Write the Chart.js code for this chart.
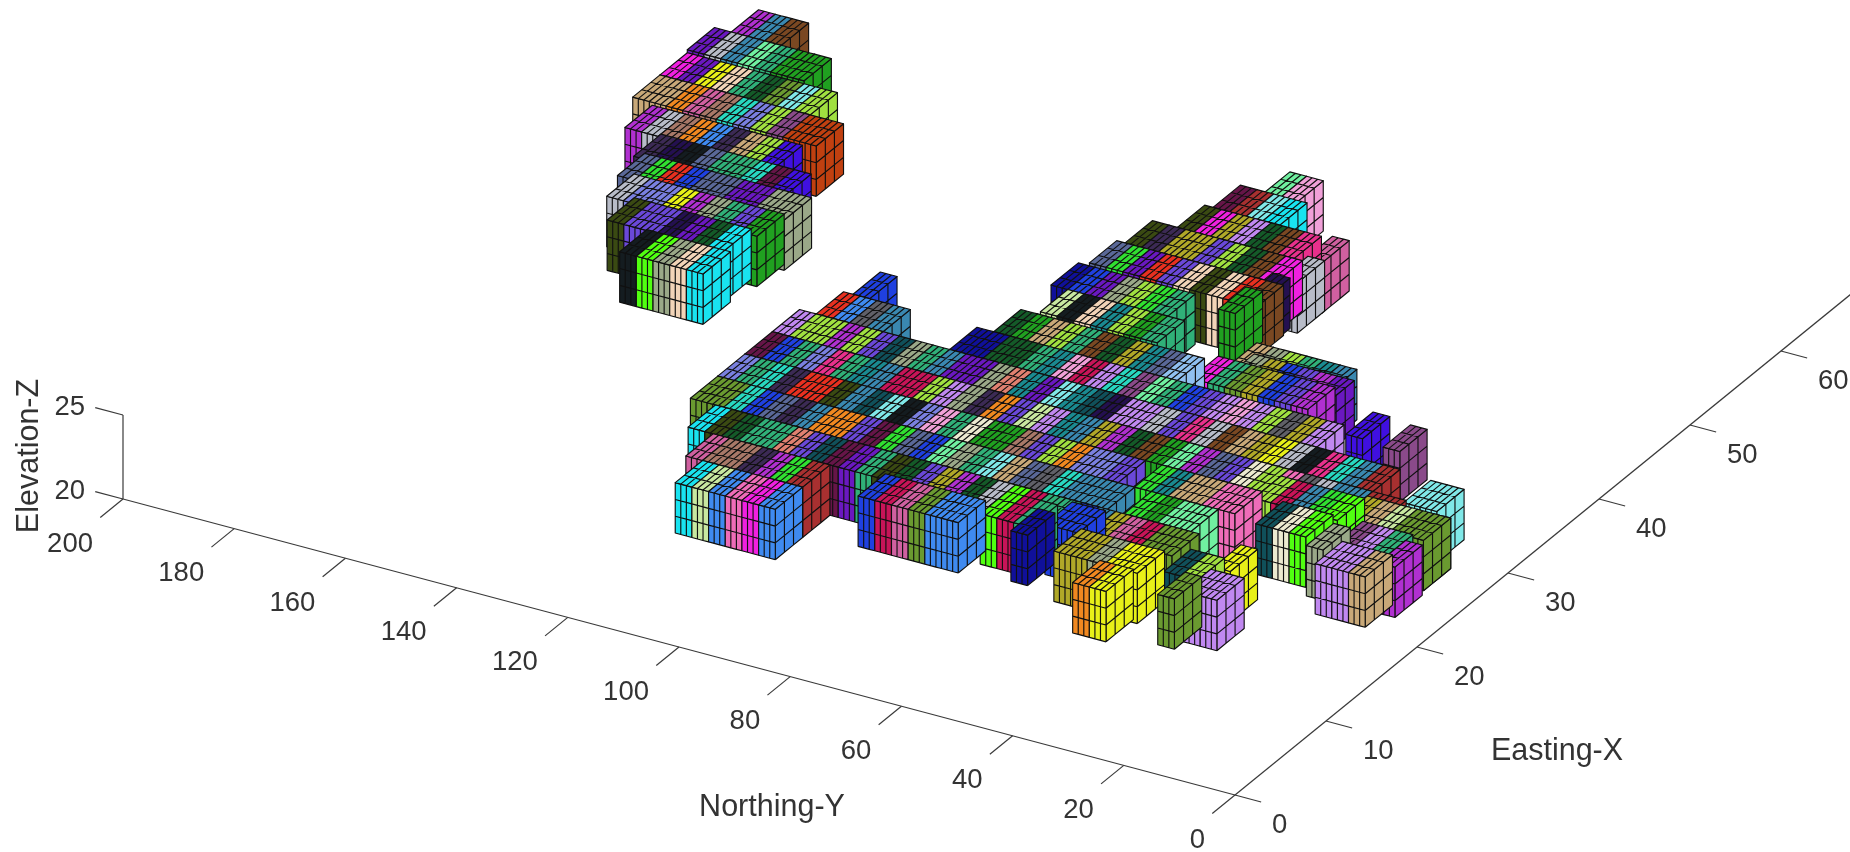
<!DOCTYPE html>
<html>
<head>
<meta charset="utf-8">
<title>Block model</title>
<script src="https://cdn.jsdelivr.net/npm/chart.js@4"></script>
<style>
  html, body { margin: 0; padding: 0; background: #fff; overflow: hidden; }
  canvas { display: block; filter: blur(0.45px); }
</style>
</head>
<body>
<canvas id="myChart" width="1850" height="852"></canvas>
<script>
// Axis ticks
const eastingTicks = [0, 10, 20, 30, 40, 50, 60];
const northingTicks = [0, 20, 40, 60, 80, 100, 120, 140, 160, 180, 200];
const elevationTicks = [20, 25];

// Each row is a line of blocks at one easting.
// rowNorthing is the first block, every next letter is 3 m further south. '.' = no block.
const rowEasting = [
  58.9, 56.8, 55.9, 54.1, 52.6, 51.4, 51.1, 49.6, 48.7, 48.1, 46.3, 46, 45.1, 43.9, 43.6, 41.8, 41.2, 38.8, 38.8,
  38.5, 37.3, 36.4, 36.1, 35.5, 35.5, 34.6, 34.3, 33.5, 32.5, 29.5, 29.2, 26.5, 25.9, 25.9, 25.6, 23.5, 23.2, 23.05,
  22.4, 22.2, 20.6, 20.5, 17.5, 17.5, 17.3, 16.6, 15.7, 15.7, 15.1, 14.8, 14.5, 14.2, 13.2, 12.1, 11.5
];
const rowNorthing = [
  184, 85, 187, 89.5, 186.5, 68.5, 91, 186.5, 68.5, 95.5, 182.5, 70.3, 97, 71.8, 176.5, 98.5, 175.5, 173.5, 95.5,
  61, 59.5, 169.5, 64, 123.8, 98.5, 33.7, 26.5, 162.5, 125.5, 128.5, 14.5, 128.5, 8.5, 20.5, 35.5, 128.5, 16.9, 31,
  7.9, 20.5, 16.3, 128.5, 124, 29.5, 59.5, 70, 63, 35.5, 89.5, 53.8, 119.5, 29.5, 32.5, 46, 116.5
];
const rowBlocks = [
  'Msx', 'EP', 'uLsEeGG', 'DdlC', 'muyWehjli', 'f', 'JmYVhxH', 'OOofXcqiZ11', 'L', 'JQYYvihxm', 'MLXobQOiU', 'z', 'SguRvWJWRx', 'G', 'QzKSeecDU', 'nBuaige', 'SgRBSSuuaa', 'LqqyMaevG', 'pKWtiGe',
  'Oaiets', 'aYBvMu', 'JvvzuhC', 'mejYBvM', 'B', 'hGOiexhYtSN', 'U', 'Z', 'KIaWC', 'RbAs....nnhhetPrVcZEeBvVPViAYV', 'ViiMivTaesuuaFtultTzVVLvHLxOYyLKHcsd', 'll', 'DBeqHetsrriVaQovpVtsYMhxGEMSvwikALssdd', 'j', 'YOpjj', 'irsgI', 'qecQRRJsTlKqPewGGXvioqqv.gtOOkk', 'ZVe', 'TwI',
  'M', 'a', 'VVO', 'jjcBSQsoovDgSBEaelOSAcsss.gGEE', 'CJheeFvTDueJhvYMhLIreeBsYfrjj', 'y', 'BB', 'Ire', 'n', 'Ti', 'Brfjbb', 'YYayy', 'fXXQMgd', 'VV', 'j', 'oy', 'Cpbkmb'
];

const blockColours = {
  C: '#19e3f0', p: '#c8e8a0', b: '#3f8af0', k: '#ee6cb8', m: '#f020e0', B: '#1f40e0', n: '#10109a', f: '#d060a0',
  X: '#a87868', Q: '#3c2a55', M: '#b030d0', g: '#30e030', d: '#a83030', r: '#c81458', e: '#30b078', D: '#661548',
  u: '#6a18c0', v: '#6a48d8', T: '#10505a', J: '#3a4a12', h: '#145a28', F: '#e08070', L: '#b8bcc8', I: '#50ff10',
  j: '#6a9a30', Y: '#b0a828', O: '#c8a878', o: '#f08820', y: '#e8f018', a: '#9aa888', w: '#ecead0', W: '#f2d4b8',
  c: '#28d8c0', s: '#3a88b0', S: '#5a6898', t: '#1a8a90', G: '#20a020', R: '#e83020', q: '#7a80e0', H: '#e8308c',
  K: '#141c20', l: '#80e8e8', i: '#a0e040', E: '#70f0a0', P: '#f0a0d8', V: '#c088f0', A: '#606068', z: '#241050',
  N: '#90c0f0', x: '#7a4822', Z: '#8a4a8a', U: '#4010e0', '1': '#c04010'
};

// Same 3D view as the original figure, the result goes on the chart's x and y scales
function project(easting, northing, elevation) {
  return {
    x: 1235 + 9.1 * easting - 5.56 * northing,
    y: 795 - 7.4 * easting - 1.48 * northing - 16.8 * (elevation - 20)
  };
}

// Walks one face of a block. The inner cell lines go out and back so the fill is still the plain face
function facePoints(corner, du, dv, n, m) {
  const at = (u, v) => corner(u * du, v * dv);
  const pts = [];
  for (let u = 0; u < n; u++) {
    pts.push(at(u, 0));
    if (u > 0) { pts.push(at(u, m)); pts.push(at(u, 0)); }
  }
  for (let v = 0; v < m; v++) {
    pts.push(at(n, v));
    if (v > 0) { pts.push(at(0, v)); pts.push(at(n, v)); }
  }
  pts.push(at(n, m));
  pts.push(at(0, m));
  pts.push(at(0, 0));
  return pts;
}

function faceDataset(points, colour) {
  return {
    data: points,
    showLine: true,
    fill: 'shape',
    backgroundColor: colour,
    borderColor: '#101010',
    borderWidth: 1.15,
    borderJoinStyle: 'round',
    borderDash: [100000], // keeps chart.js off its fast path, that one merges points in the same pixel column
    pointRadius: 0
  };
}

const datasets = [];

// chart.js paints the last dataset first, so nearest blocks go in first
const blocks = [];
rowBlocks.forEach(function(codes, r) {
  codes.split('').forEach(function(code, k) {
    if (code === '.') return;
    blocks.push({ e: rowEasting[r], n: rowNorthing[r] - 3 * k, colour: blockColours[code] });
  });
});
blocks.sort(function(a, b) { return a.e - b.e || a.n - b.n; });

blocks.forEach(function(b) {
  const top = 23, bottom = 20;
  datasets.push(faceDataset(facePoints((u, v) => project(b.e + u, b.n + v, top), 1, 1, 3, 3), b.colour));
  datasets.push(faceDataset(facePoints((u, v) => project(b.e, b.n + u, bottom + v), 1, 1, 3, 3), b.colour));
  datasets.push(faceDataset(facePoints((u, v) => project(b.e + u, b.n, bottom + v), 1, 1, 3, 3), b.colour));
});

function axisDataset(points) {
  return { data: points, showLine: true, fill: false, borderColor: '#3a3a3a', borderWidth: 1.2, pointRadius: 0 };
}

// Axis lines and tick marks
datasets.push(axisDataset([project(0, 0, 20), project(70, 0, 20)]));
datasets.push(axisDataset([project(0, 0, 20), project(0, 200, 20)]));
datasets.push(axisDataset([project(0, 200, 20), project(0, 200, 25)]));
eastingTicks.forEach(function(t) {
  datasets.push(axisDataset([project(t, 0, 20), project(t, -4.7, 20)]));
});
northingTicks.forEach(function(t) {
  datasets.push(axisDataset([project(0, t, 20), project(-2.5, t, 20)]));
});
elevationTicks.forEach(function(t) {
  datasets.push(axisDataset([project(0, 200, t), project(0, 205, t)]));
});

// Tick labels and axis titles
const axisText = {
  id: 'axisText',
  afterDatasetsDraw(chart) {
    const ctx = chart.ctx;
    const px = chart.scales.x, py = chart.scales.y;
    const put = function(text, p, dx, dy, align) {
      ctx.textAlign = align;
      ctx.fillText(text, px.getPixelForValue(p.x) + dx, py.getPixelForValue(p.y) + dy);
    };
    ctx.save();
    ctx.fillStyle = '#333';
    ctx.textBaseline = 'middle';
    ctx.font = '27.5px "Liberation Sans"';
    eastingTicks.forEach(t => put(String(t), project(t, 0, 20), 37, 30, 'left'));
    northingTicks.forEach(t => put(String(t), project(0, t, 20), -30, 45, 'right'));
    elevationTicks.forEach(t => put(String(t), project(0, 200, t), -38, -8, 'right'));
    ctx.font = '30.5px "Liberation Sans"';
    ctx.textAlign = 'center';
    ctx.fillText('Northing-Y', 772, 808);
    ctx.fillText('Easting-X', 1557, 752);
    ctx.translate(30, 456);
    ctx.rotate(-Math.PI / 2);
    ctx.fillText('Elevation-Z', 0, 0);
    ctx.restore();
  }
};

Chart.defaults.font.family = '"Liberation Sans", Arial, sans-serif';

const chart = new Chart(document.getElementById('myChart').getContext('2d'), {
  type: 'scatter',
  data: { datasets: datasets },
  options: {
    responsive: false,
    animation: false,
    devicePixelRatio: 1,
    layout: { padding: 0 },
    events: [],
    scales: {
      x: { type: 'linear', min: 0, max: 1850, display: false },
      y: { type: 'linear', min: 0, max: 852, reverse: true, display: false }
    },
    plugins: {
      legend: { display: false },
      tooltip: { enabled: false },
      title: { display: false }
    }
  },
  plugins: [axisText]
});
</script>
</body>
</html>
